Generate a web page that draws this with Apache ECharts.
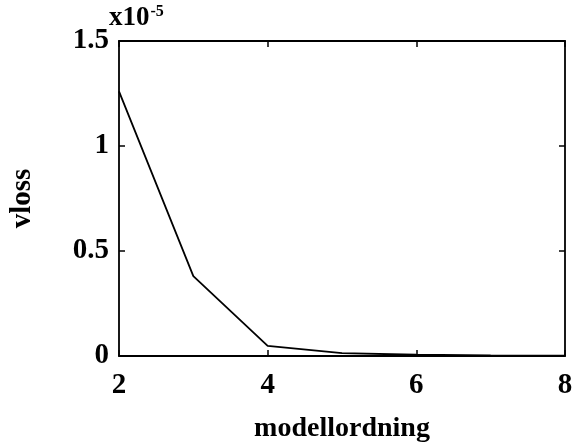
<!DOCTYPE html>
<html>
<head>
<meta charset="utf-8">
<script src="https://cdn.jsdelivr.net/npm/echarts@6/dist/echarts.min.js"></script>
<style>
html,body{margin:0;padding:0;background:#fff;}
#c{width:576px;height:448px;}
</style>
</head>
<body>
<div id="c"></div>
<script>
// Data (vloss in units of 1e-5)
var modelOrder = [2, 3, 4, 5, 6, 7, 8];
var vloss = [1.26, 0.38, 0.048, 0.014, 0.006, 0.003, 0.002];
var xTicks = [2, 4, 6, 8];
var yTicks = [0, 0.5, 1, 1.5];
var xName = 'modellordning';
var yName = 'vloss';

var FONT = 'Liberation Serif';
var chart = echarts.init(document.getElementById('c'));
var tickStyle = {show: true, inside: true, length: 6, lineStyle: {color: '#000', width: 1.5}};
var lineStyle = {color: '#000', width: 1.8};
chart.setOption({
  animation: false,
  backgroundColor: '#fff',
  grid: {left: 117, right: 11, top: 41, bottom: 87, containLabel: false},
  xAxis: [{
    type: 'value', min: 2, max: 8, interval: 2, position: 'bottom',
    axisLine: {show: true, onZero: false, lineStyle: lineStyle},
    axisTick: tickStyle,
    splitLine: {show: false},
    axisLabel: {color: '#000', fontFamily: FONT, fontWeight: 'bold', fontSize: 29, margin: 15},
    name: xName, nameLocation: 'middle', nameGap: 59,
    nameTextStyle: {color: '#000', fontFamily: FONT, fontWeight: 'bold', fontSize: 28}
  }, {
    type: 'value', min: 2, max: 8, interval: 2, position: 'top',
    axisLine: {show: true, onZero: false, lineStyle: lineStyle},
    axisTick: tickStyle, axisLabel: {show: false}, splitLine: {show: false}
  }],
  yAxis: [{
    type: 'value', min: 0, max: 1.5, interval: 0.5, position: 'left',
    axisLine: {show: true, onZero: false, lineStyle: lineStyle},
    axisTick: tickStyle,
    splitLine: {show: false},
    axisLabel: {color: '#000', fontFamily: FONT, fontWeight: 'bold', fontSize: 29, margin: 10},
    name: yName, nameLocation: 'middle', nameGap: 82,
    nameTextStyle: {color: '#000', fontFamily: FONT, fontWeight: 'bold', fontSize: 29}
  }, {
    type: 'value', min: 0, max: 1.5, interval: 0.5, position: 'right',
    axisLine: {show: true, onZero: false, lineStyle: lineStyle},
    axisTick: tickStyle, axisLabel: {show: false}, splitLine: {show: false}
  }],
  graphic: [{
    type: 'text', left: 109, top: 4,
    style: {
      text: '{a|x10}{b|-5}',
      rich: {
        a: {fontFamily: FONT, fontWeight: 'bold', fontSize: 27, fill: '#000', verticalAlign: 'bottom'},
        b: {fontFamily: FONT, fontWeight: 'bold', fontSize: 16, fill: '#000', verticalAlign: 'top', padding: [0, 0, 12, 1]}
      }
    }
  }],
  series: [{
    type: 'line',
    xAxisIndex: 0, yAxisIndex: 0,
    data: modelOrder.map(function (x, i) { return [x, vloss[i]]; }),
    showSymbol: false,
    lineStyle: {color: '#000', width: 1.8}
  }]
});
</script>
</body>
</html>
